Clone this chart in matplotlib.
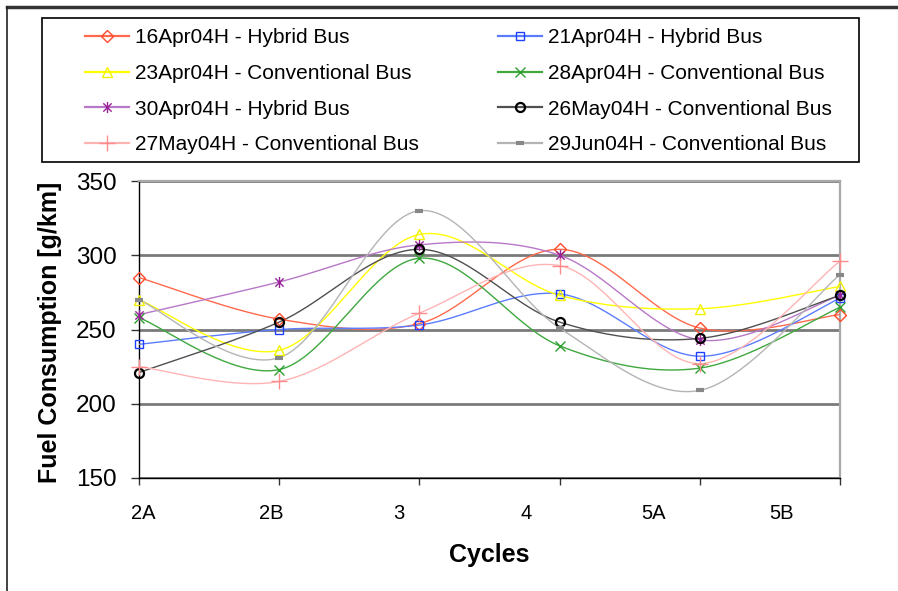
import numpy as np
import matplotlib
matplotlib.use("Agg")
import matplotlib.pyplot as plt
from matplotlib.lines import Line2D
from matplotlib.patches import Rectangle
from matplotlib.path import Path

plt.rcParams['font.family'] = ['Liberation Sans', 'DejaVu Sans']

cycles = ["2A", "2B", "3", "4", "5A", "5B"]

s16apr = [285, 257, 254, 304, 251, 260]
s21apr = [240, 250, 253, 274, 232, 271]
s23apr = [270, 236, 314, 273, 264, 279]
s28apr = [258, 223, 298, 239, 224, 265]
s30apr = [260, 282, 307, 300, 243, 273]
s26may = [221, 255, 304, 255, 244, 273]
s27may = [225, 215, 261, 293, 227, 296]
s29jun = [270, 231, 330, 251, 209, 287]

names = ["16Apr04H - Hybrid Bus", "21Apr04H - Hybrid Bus",
         "23Apr04H - Conventional Bus", "28Apr04H - Conventional Bus",
         "30Apr04H - Hybrid Bus", "26May04H - Conventional Bus",
         "27May04H - Conventional Bus", "29Jun04H - Conventional Bus"]

star = Path([(0, -1), (0, 1), (-0.75, -0.75), (0.75, 0.75), (-0.75, 0.75), (0.75, -0.75)],
            [Path.MOVETO, Path.LINETO, Path.MOVETO, Path.LINETO, Path.MOVETO, Path.LINETO])

# (values, line colour, marker, marker colour, marker size, marker edge width)
styles = [
    (s16apr, '#FF6A4D', 'D', '#FF4A2A', 6.0, 1.0),
    (s21apr, '#5C7CFF', 's', '#1F3FFF', 5.5, 1.0),
    (s23apr, '#FFFF00', '^', '#F2F200', 7.5, 1.0),
    (s28apr, '#3FA83F', 'x', '#2E9E2E', 7.5, 1.0),
    (s30apr, '#B878C8', star, '#992299', 8.0, 1.0),
    (s26may, '#505050', 'o', '#000000', 6.5, 1.6),
    (s27may, '#FFB4B4', '+', '#FF8C8C', 12.0, 1.0),
    (s29jun, '#B4B4B4', '_', '#888888', 6.0, 3.0),
]


def smooth(xs, ys, n=40):
    pts = np.column_stack([xs, ys]).astype(float)
    P = np.vstack([pts[0], pts, pts[-1]])
    out = []
    t = np.linspace(0, 1, n)[:, None]
    for i in range(len(pts) - 1):
        p0, p1, p2, p3 = P[i], P[i + 1], P[i + 2], P[i + 3]
        c1 = p1 + (p2 - p0) / 6.0
        c2 = p2 - (p3 - p1) / 6.0
        b = ((1 - t) ** 3) * p1 + 3 * ((1 - t) ** 2) * t * c1 + 3 * (1 - t) * t ** 2 * c2 + t ** 3 * p2
        out.append(b if i == 0 else b[1:])
    return np.vstack(out)


W, H = 898, 591
fig = plt.figure(figsize=(W / 100, H / 100), dpi=100)
ax = fig.add_axes([139 / W, 1 - 478 / H, (840 - 139) / W, (478 - 181) / H])

x = np.arange(len(cycles))
handles = []
for (vals, lc, mk, mc, ms, mew), name in zip(styles, names):
    curve = smooth(x, vals)
    ax.plot(curve[:, 0], curve[:, 1], color=lc, lw=1.0, zorder=3)
    ax.plot(x, vals, ls='none', marker=mk, ms=ms, mfc='none', mec=mc, mew=mew,
            zorder=4, clip_on=False)
    handles.append(Line2D([], [], color=lc, lw=1.6, marker=mk, ms=ms, mfc='none',
                          mec=mc, mew=mew))

ax.set_xlim(0, len(cycles) - 1)
ax.set_ylim(150, 350)
ax.set_yticks([150, 200, 250, 300, 350])
ax.set_xticks(x)
ax.set_xticklabels([])
ax.set_xticks(x * 0.91 + 0.03, minor=True)
ax.set_xticklabels(cycles, minor=True)
ax.tick_params(axis='x', which='major', direction='out', length=5, width=1, color='#333333')
ax.tick_params(axis='x', which='minor', length=0, pad=19, labelsize=14.5)
ax.tick_params(axis='y', direction='out', length=6, width=1, pad=10, labelsize=17.5, color='#333333')

ax.yaxis.grid(True, color='#7A7A7A', lw=2.0)
ax.set_axisbelow(True)
for s in ['top', 'right']:
    ax.spines[s].set_color('#A8A8A8')
    ax.spines[s].set_linewidth(1.6)
for s in ['left', 'bottom']:
    ax.spines[s].set_color('#000000')
    ax.spines[s].set_linewidth(1.0)

ax.set_ylabel("Fuel Consumption [g/km]", fontsize=18, fontweight='bold', va='center')
ax.yaxis.set_label_coords((50 - 139) / (840 - 139), (478 - 332.5) / (478 - 181))
ax.set_xlabel("Cycles", fontsize=18, fontweight='bold', va='center')
ax.xaxis.set_label_coords(0.5, (478 - 555) / (478 - 181))

# legend (row-wise order as in reference)
order = [0, 2, 4, 6, 1, 3, 5, 7]
leg = fig.legend([handles[i] for i in order], [names[i] for i in order], ncol=2,
                 loc='upper left', bbox_to_anchor=(75 / W, 1 - 18 / H),
                 frameon=False, borderpad=0, fontsize=15, handlelength=2.1,
                 handletextpad=0.3, columnspacing=3.8, labelspacing=0.8)
fig.add_artist(Rectangle((42 / W, 1 - 162 / H), (859 - 42) / W, (162 - 18) / H,
                         transform=fig.transFigure, fill=False, ec='black', lw=1.2))

# outer chart frame
fig.add_artist(Line2D([7 / W, 1], [1 - 7 / H, 1 - 7 / H], transform=fig.transFigure,
                      color='#333333', lw=2.5))
fig.add_artist(Line2D([7 / W, 7 / W], [0, 1 - 7 / H], transform=fig.transFigure,
                      color='#222222', lw=1.2))

fig.savefig("out.png", dpi=100)
